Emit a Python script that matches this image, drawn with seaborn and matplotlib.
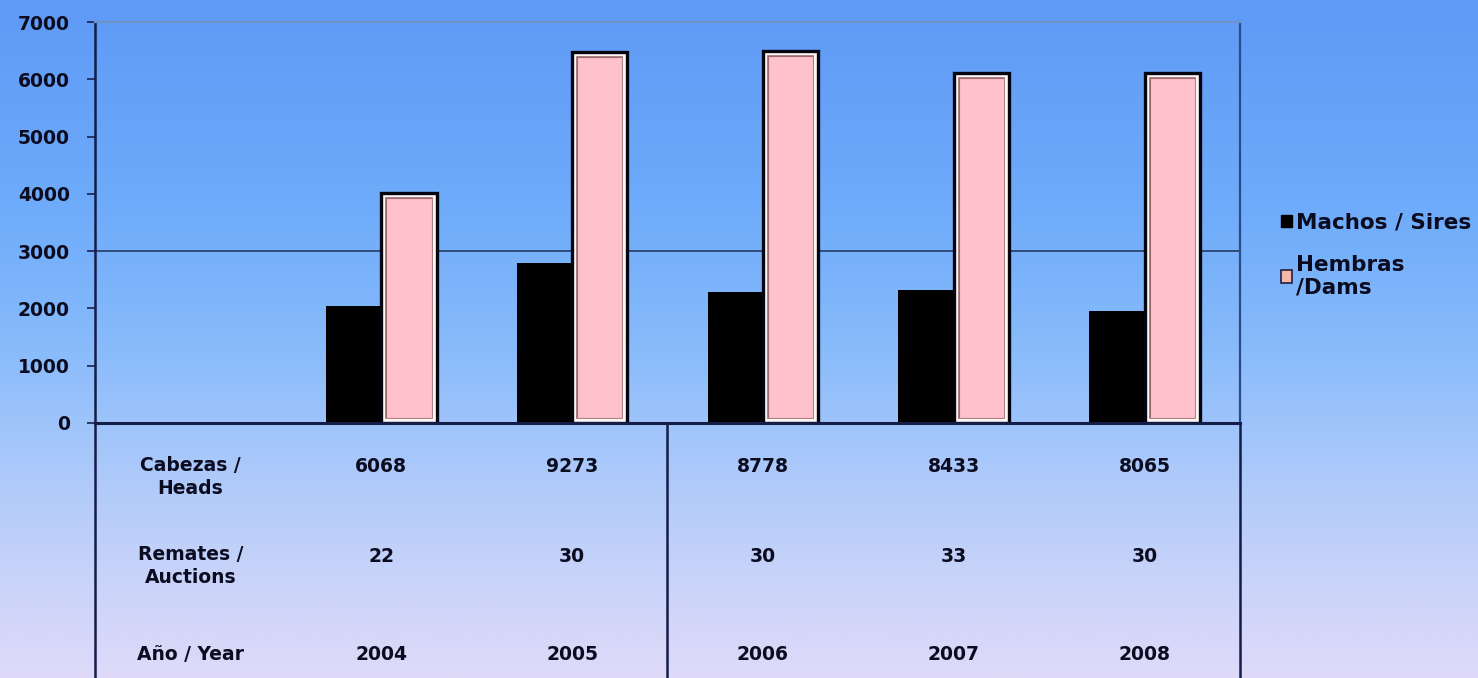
import numpy as np
import pandas as pd
import matplotlib
matplotlib.use("Agg")
import matplotlib.pyplot as plt
import matplotlib.transforms as mtransforms
from matplotlib.colors import LinearSegmentedColormap
from matplotlib.patches import Rectangle, Patch
import seaborn as sns

# --- data -------------------------------------------------------------
years = ["2004", "2005", "2006", "2007", "2008"]
machos = [2050, 2800, 2290, 2330, 1960]      # Machos / Sires
hembras = [4018, 6473, 6488, 6103, 6105]     # Hembras / Dams
cabezas = [6068, 9273, 8778, 8433, 8065]     # Cabezas / Heads
remates = [22, 30, 30, 33, 30]               # Remates / Auctions
series_labels = ["Machos / Sires", "Hembras\n/Dams"]
row_labels = ["Cabezas /\nHeads", "Remates /\nAuctions", "Año / Year"]
y_ticks = [0, 1000, 2000, 3000, 4000, 5000, 6000, 7000]

# first slot is left empty: it holds the row headers of the data table
categories = [""] + years

df = pd.DataFrame({
    "year": years * 2,
    "value": machos + hembras,
    "series": [series_labels[0]] * len(years) + [series_labels[1]] * len(years),
})

sns.set_theme(style="white")
plt.rcParams["font.family"] = ["DejaVu Sans"]
plt.rcParams["font.weight"] = "bold"

W, H = 1478, 678
fig = plt.figure(figsize=(W / 100, H / 100), dpi=100)

# vertical gradient background
bg = fig.add_axes([0, 0, 1, 1], zorder=-10)
cmap = LinearSegmentedColormap.from_list(
    "bg",
    [(0.0, "#5e9af6"), (0.30, "#6eabfa"), (0.50, "#86bafb"),
     (0.68, "#a9c8fa"), (0.85, "#c8d3f9"), (1.0, "#dfdaf9")],
)
grad = np.linspace(0, 1, 256).reshape(-1, 1)
bg.imshow(grad, aspect="auto", cmap=cmap, extent=[0, 1, 0, 1], origin="upper")
bg.set_axis_off()

# plot area
x0, x1, ytop, ybot = 95, 1240, 22, 423
ax = fig.add_axes([x0 / W, 1 - ybot / H, (x1 - x0) / W, (ybot - ytop) / H])
ax.set_facecolor("none")

pink = "#ffc1cc"
sns.barplot(
    data=df, x="year", y="value", hue="series",
    order=categories, hue_order=series_labels,
    palette=["#000000", pink], saturation=1,
    width=0.58, gap=0, legend=False, ax=ax, zorder=3,
)

for bar in ax.containers[0]:
    bar.set_linewidth(0)
    bar.set_edgecolor("none")

# framed, bevelled look for the Hembras bars
for bar in ax.containers[1]:
    bar.set_linewidth(0)
    bar.set_edgecolor("none")
    z = bar.get_zorder()
    for lw, col, dz, clip in [(8.0, "#9c6c6c", 0.1, True),
                              (6.0, "#fff6f8", 0.2, True),
                              (2.4, "#05050f", 0.3, False)]:
        r = Rectangle(bar.get_xy(), bar.get_width(), bar.get_height(),
                      facecolor="none", edgecolor=col, lw=lw, zorder=z + dz,
                      joinstyle="miter")
        ax.add_patch(r)
        if clip:
            r.set_clip_path(bar)

ax.set_xlim(-0.5, len(categories) - 0.5)
ax.set_ylim(0, 7000)
ax.set_yticks(y_ticks)
ax.set_yticklabels([str(v) for v in y_ticks], fontsize=13.5, fontweight="bold", color="#0c0c20")
ax.set_xticks([])
ax.set_xlabel("")
ax.set_ylabel("")
ax.tick_params(axis="y", direction="out", length=6, width=1.2, color="#1a2050", pad=12, left=True)

ax.axhline(3000, color="#2a4470", lw=1.3, zorder=1)

navy = "#141c48"
ax.spines["left"].set_color(navy)
ax.spines["left"].set_linewidth(1.8)
ax.spines["bottom"].set_color(navy)
ax.spines["bottom"].set_linewidth(2.2)
ax.spines["bottom"].set_zorder(5)
ax.spines["top"].set_color("#6f92c8")
ax.spines["top"].set_linewidth(1.6)
ax.spines["right"].set_color("#2c4a86")
ax.spines["right"].set_linewidth(1.6)

# data table under the chart
tbl_bottom = -(H - ybot) / (ybot - ytop) - 0.02
for xv in (-0.5, 2.5, len(categories) - 0.5):
    ax.axvline(xv, ymin=tbl_bottom, ymax=0, clip_on=False, color=navy, lw=1.8)

trans = mtransforms.blended_transform_factory(ax.transData, ax.transAxes)


def ay(py):
    return (ybot - py) / (ybot - ytop)


txt_kw = dict(transform=trans, ha="center", va="center",
              fontweight="bold", color="#0c0c20", clip_on=False)
rows = [
    (row_labels[0], ay(477), [str(v) for v in cabezas], ay(466)),
    (row_labels[1], ay(566), [str(v) for v in remates], ay(557)),
    (row_labels[2], ay(655), years, ay(655)),
]
for label, ly, vals, vy in rows:
    ax.text(0, ly, label, linespacing=1.3, fontsize=13.5, **txt_kw)
    for i, v in enumerate(vals, start=1):
        ax.text(i, vy, v, fontsize=13.5, **txt_kw)

# legend
handles = [
    Patch(facecolor="#000000", edgecolor="#000000"),
    Patch(facecolor="#f4b8a8", edgecolor="#202040", lw=1.2),
]
fig.legend(
    handles, series_labels, loc="upper left",
    bbox_to_anchor=(1281 / W, 1 - 213 / H), frameon=False,
    handlelength=0.5, handleheight=0.5, handletextpad=0.2,
    labelspacing=1.0, borderpad=0, borderaxespad=0,
    prop={"size": 15.5, "weight": "bold"}, labelcolor="#0c0c20",
)

fig.savefig("out.png", dpi=100)
